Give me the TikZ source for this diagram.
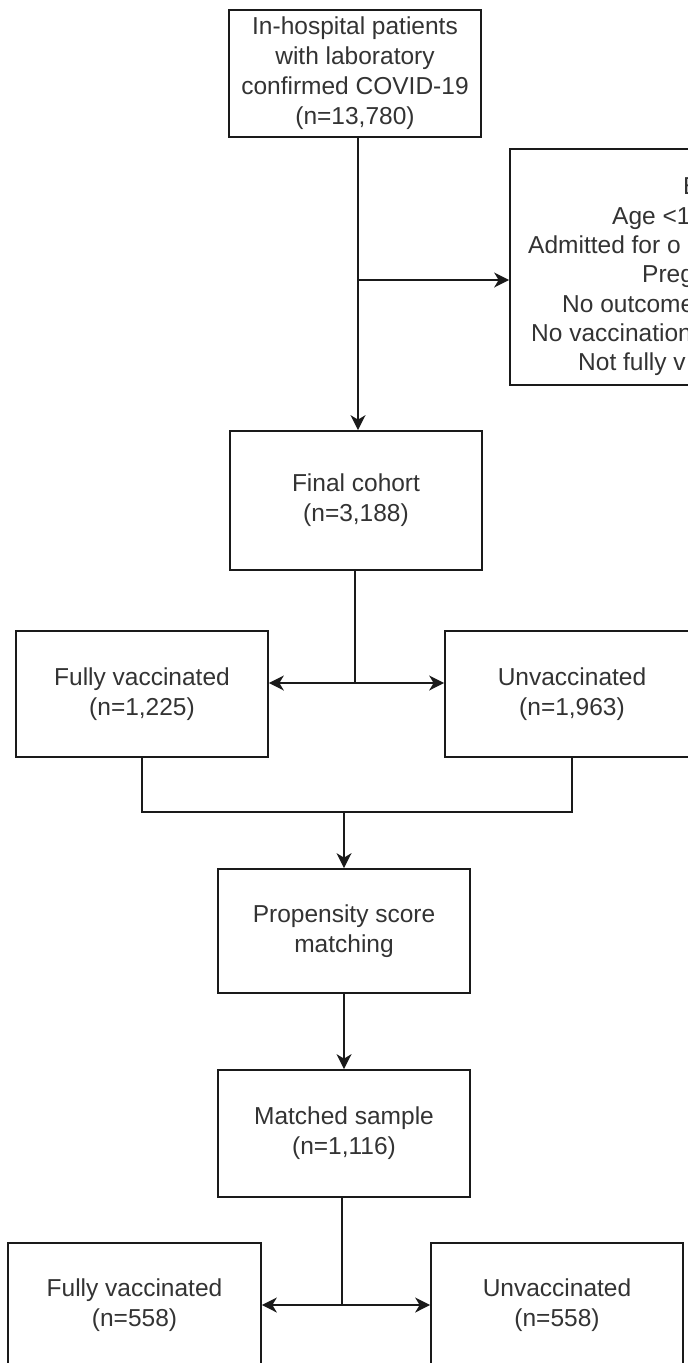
\documentclass[tikz,border=0pt]{standalone}
\usepackage{fontspec}
\setmainfont{Liberation Sans}
\usetikzlibrary{arrows.meta}
\definecolor{txt}{HTML}{333333}
\definecolor{ln}{HTML}{1A1A1A}
\tikzset{
  box/.style={draw=ln, line width=1.7pt, rectangle, minimum width=252pt, text=txt, align=center,
    font=\fontsize{24.5}{30}\selectfont, inner sep=0pt},
  conn/.style={draw=ln, line width=1.7pt},
  arr/.style={conn, -{Stealth[length=15pt,width=15pt,inset=4.5pt]}},
  lbl/.style={anchor=base west, text=txt, font=\fontsize{24.5}{30}\selectfont, inner sep=0pt}
}
\begin{document}
\begin{tikzpicture}[x=1pt,y=-1pt]
\useasboundingbox (0,0) rectangle (688,1363);
\clip (0,0) rectangle (688,1363);
\fill[white] (0,0) rectangle (688,1363);
% boxes
\node[box, minimum height=127pt] (top) at (355,73.5) {In-hospital patients\\with laboratory\\confirmed COVID-19\\(n=13,780)};
\node[box, minimum width=490pt, minimum height=236pt] (excl) at (755,267) {};
\node[box, minimum height=139pt] (final) at (356,500.5) {Final cohort\\(n=3,188)};
\node[box, minimum height=126pt] (fv1) at (142,694) {Fully vaccinated\\(n=1,225)};
\node[box, minimum width=254pt, minimum height=126pt] (uv1) at (572,694) {Unvaccinated\\(n=1,963)};
\node[box, minimum height=124pt] (prop) at (344,931) {Propensity score\\matching};
\node[box, minimum height=127pt] (match) at (344,1133.5) {Matched sample\\(n=1,116)};
\node[box, minimum width=253pt, minimum height=124pt] (fv2) at (134.5,1305) {Fully vaccinated\\(n=558)};
\node[box, minimum height=124pt] (uv2) at (557,1305) {Unvaccinated\\(n=558)};
% exclusion text (cut by the picture edge)
\node[lbl] (e1) at (683,194) {E};
\node[lbl] (e2) at (612,224) {Age <1};
\node[lbl] (e3) at (528,253) {Admitted for o};
\node[lbl] (e4) at (642,282) {Preg};
\node[lbl] (e5) at (562,312) {No outcome};
\node[lbl] (e6) at (531,341) {No vaccination};
\node[lbl] (e7) at (578,370) {Not fully v};
% connectors
\coordinate (j1) at (358,280);
\draw[arr] ([xshift=3pt]top.south) -- ([xshift=3pt]top.south |- final.north);
\draw[arr] (j1) -- (j1 -| excl.west);
\coordinate (j2) at (355,683);
\draw[conn] ([xshift=-1pt]final.south) -- (j2);
\draw[arr] (j2) -- (j2 -| fv1.east);
\draw[arr] (j2) -- (j2 -| uv1.west);
\coordinate (j3) at (344,812);
\draw[conn] (fv1.south) |- (uv1.south |- j3) -- (uv1.south);
\draw[arr] (j3) -- (j3 |- prop.north);
\draw[arr] (prop.south) -- (match.north);
\coordinate (j4) at (342,1305);
\draw[conn] ([xshift=-2pt]match.south) -- (j4);
\draw[arr] (j4) -- (j4 -| fv2.east);
\draw[arr] (j4) -- (j4 -| uv2.west);
\end{tikzpicture}
\end{document}
